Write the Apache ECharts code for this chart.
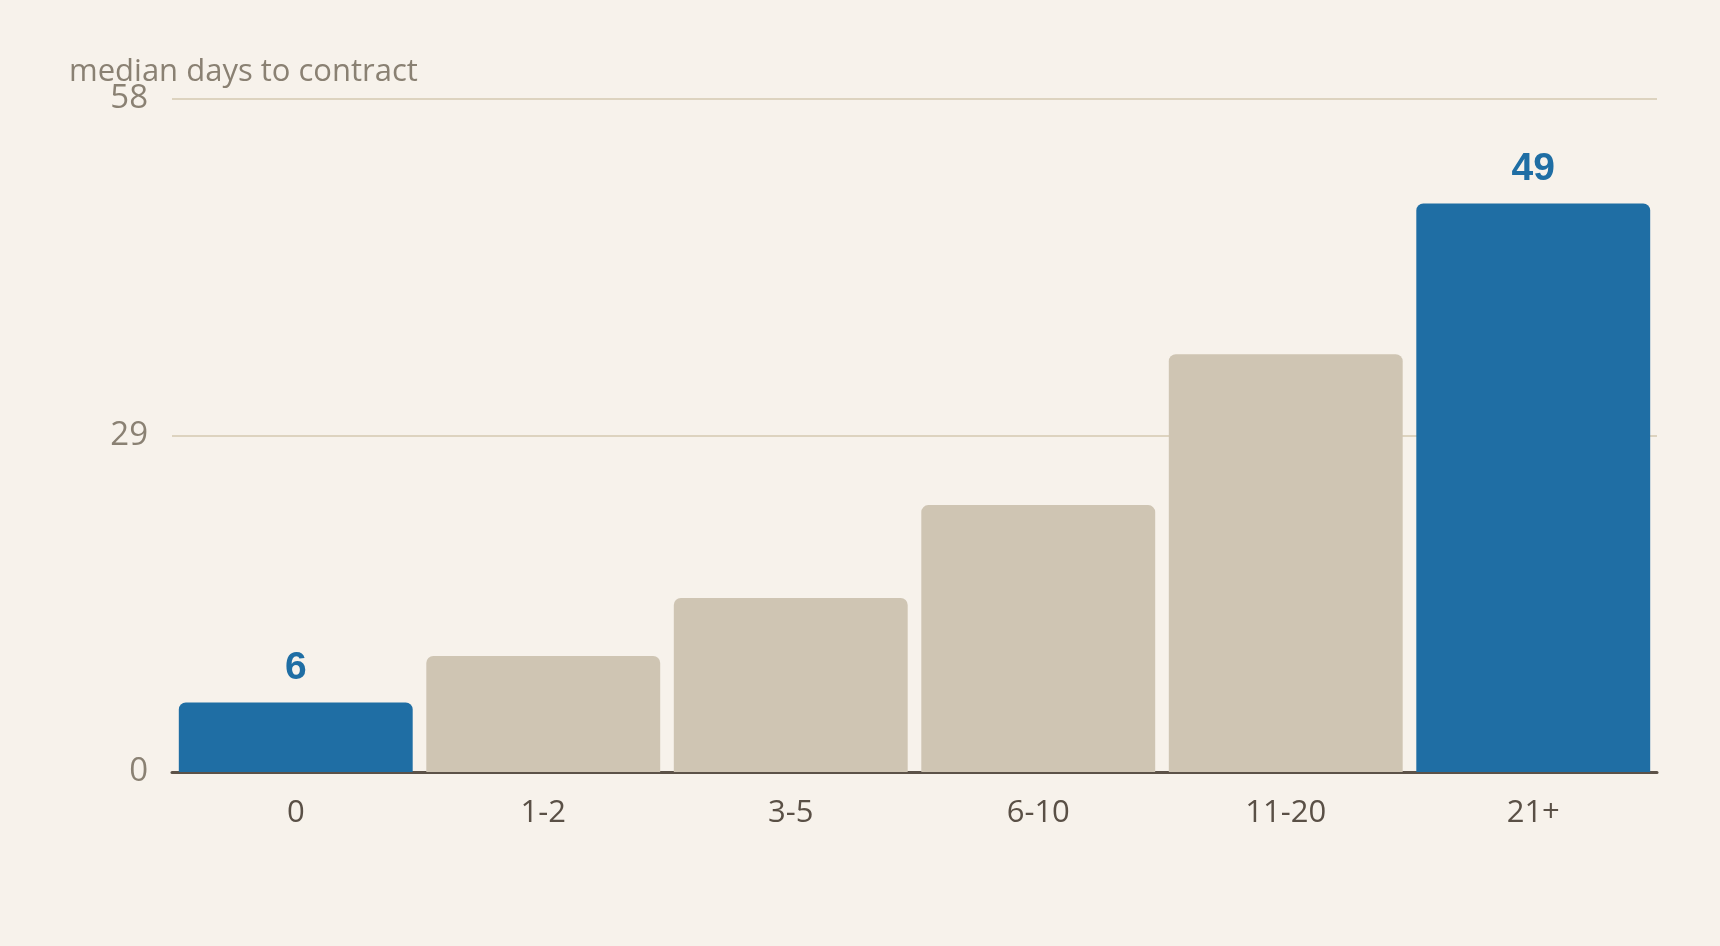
<!DOCTYPE html>
<html>
<head>
<meta charset="utf-8">
<script src="https://cdn.jsdelivr.net/npm/echarts@6/dist/echarts.min.js"></script>
<style>
html,body{margin:0;padding:0;background:#f7f2eb;}
#chart{width:1720px;height:946px;}
</style>
</head>
<body>
<div id="chart"></div>
<script>
const categories = ['0', '1-2', '3-5', '6-10', '11-20', '21+'];
const values = [6, 10, 15, 23, 36, 49];
const highlighted = [true, false, false, false, false, true];
const yTicks = [0, 29, 58];
const titleText = 'median days to contract';

const BLUE = '#1f6ea4';
const BEIGE = '#cfc5b3';
const FONT = '"Open Sans", sans-serif';

const chart = echarts.init(document.getElementById('chart'));
const data = values.map((v, i) => ({
  value: v,
  itemStyle: { color: highlighted[i] ? BLUE : BEIGE },
  label: { show: highlighted[i] }
}));

chart.setOption({
  backgroundColor: '#f7f2eb',
  animation: false,
  title: {
    text: titleText,
    left: 64,
    top: 52,
    textStyle: { fontFamily: FONT, fontSize: 31, fontWeight: 'normal', color: '#8a8173' }
  },
  grid: { left: 172, right: 63, top: 99, bottom: 174 },
  xAxis: {
    type: 'category',
    data: categories,
    axisLine: { lineStyle: { color: '#5c5248', width: 3 } },
    axisTick: { show: false },
    axisLabel: { fontFamily: FONT, fontSize: 31, color: '#5a5046', margin: 26 }
  },
  yAxis: {
    type: 'value',
    min: yTicks[0],
    max: yTicks[yTicks.length - 1],
    interval: yTicks[1] - yTicks[0],
    axisLine: { show: false },
    axisTick: { show: false },
    splitLine: { lineStyle: { color: '#ddd3bf', width: 2 } },
    axisLabel: { fontFamily: FONT, fontSize: 33, color: '#8a8173', margin: 24 }
  },
  series: [{
    type: 'bar',
    data: data,
    barCategoryGap: '5.5%',
    itemStyle: { borderRadius: [7, 7, 0, 0] },
    label: {
      position: 'top',
      distance: 15,
      fontFamily: '"Liberation Sans", Arial, sans-serif',
      fontWeight: 900,
      fontSize: 39,
      color: BLUE
    }
  }]
});
</script>
</body>
</html>
